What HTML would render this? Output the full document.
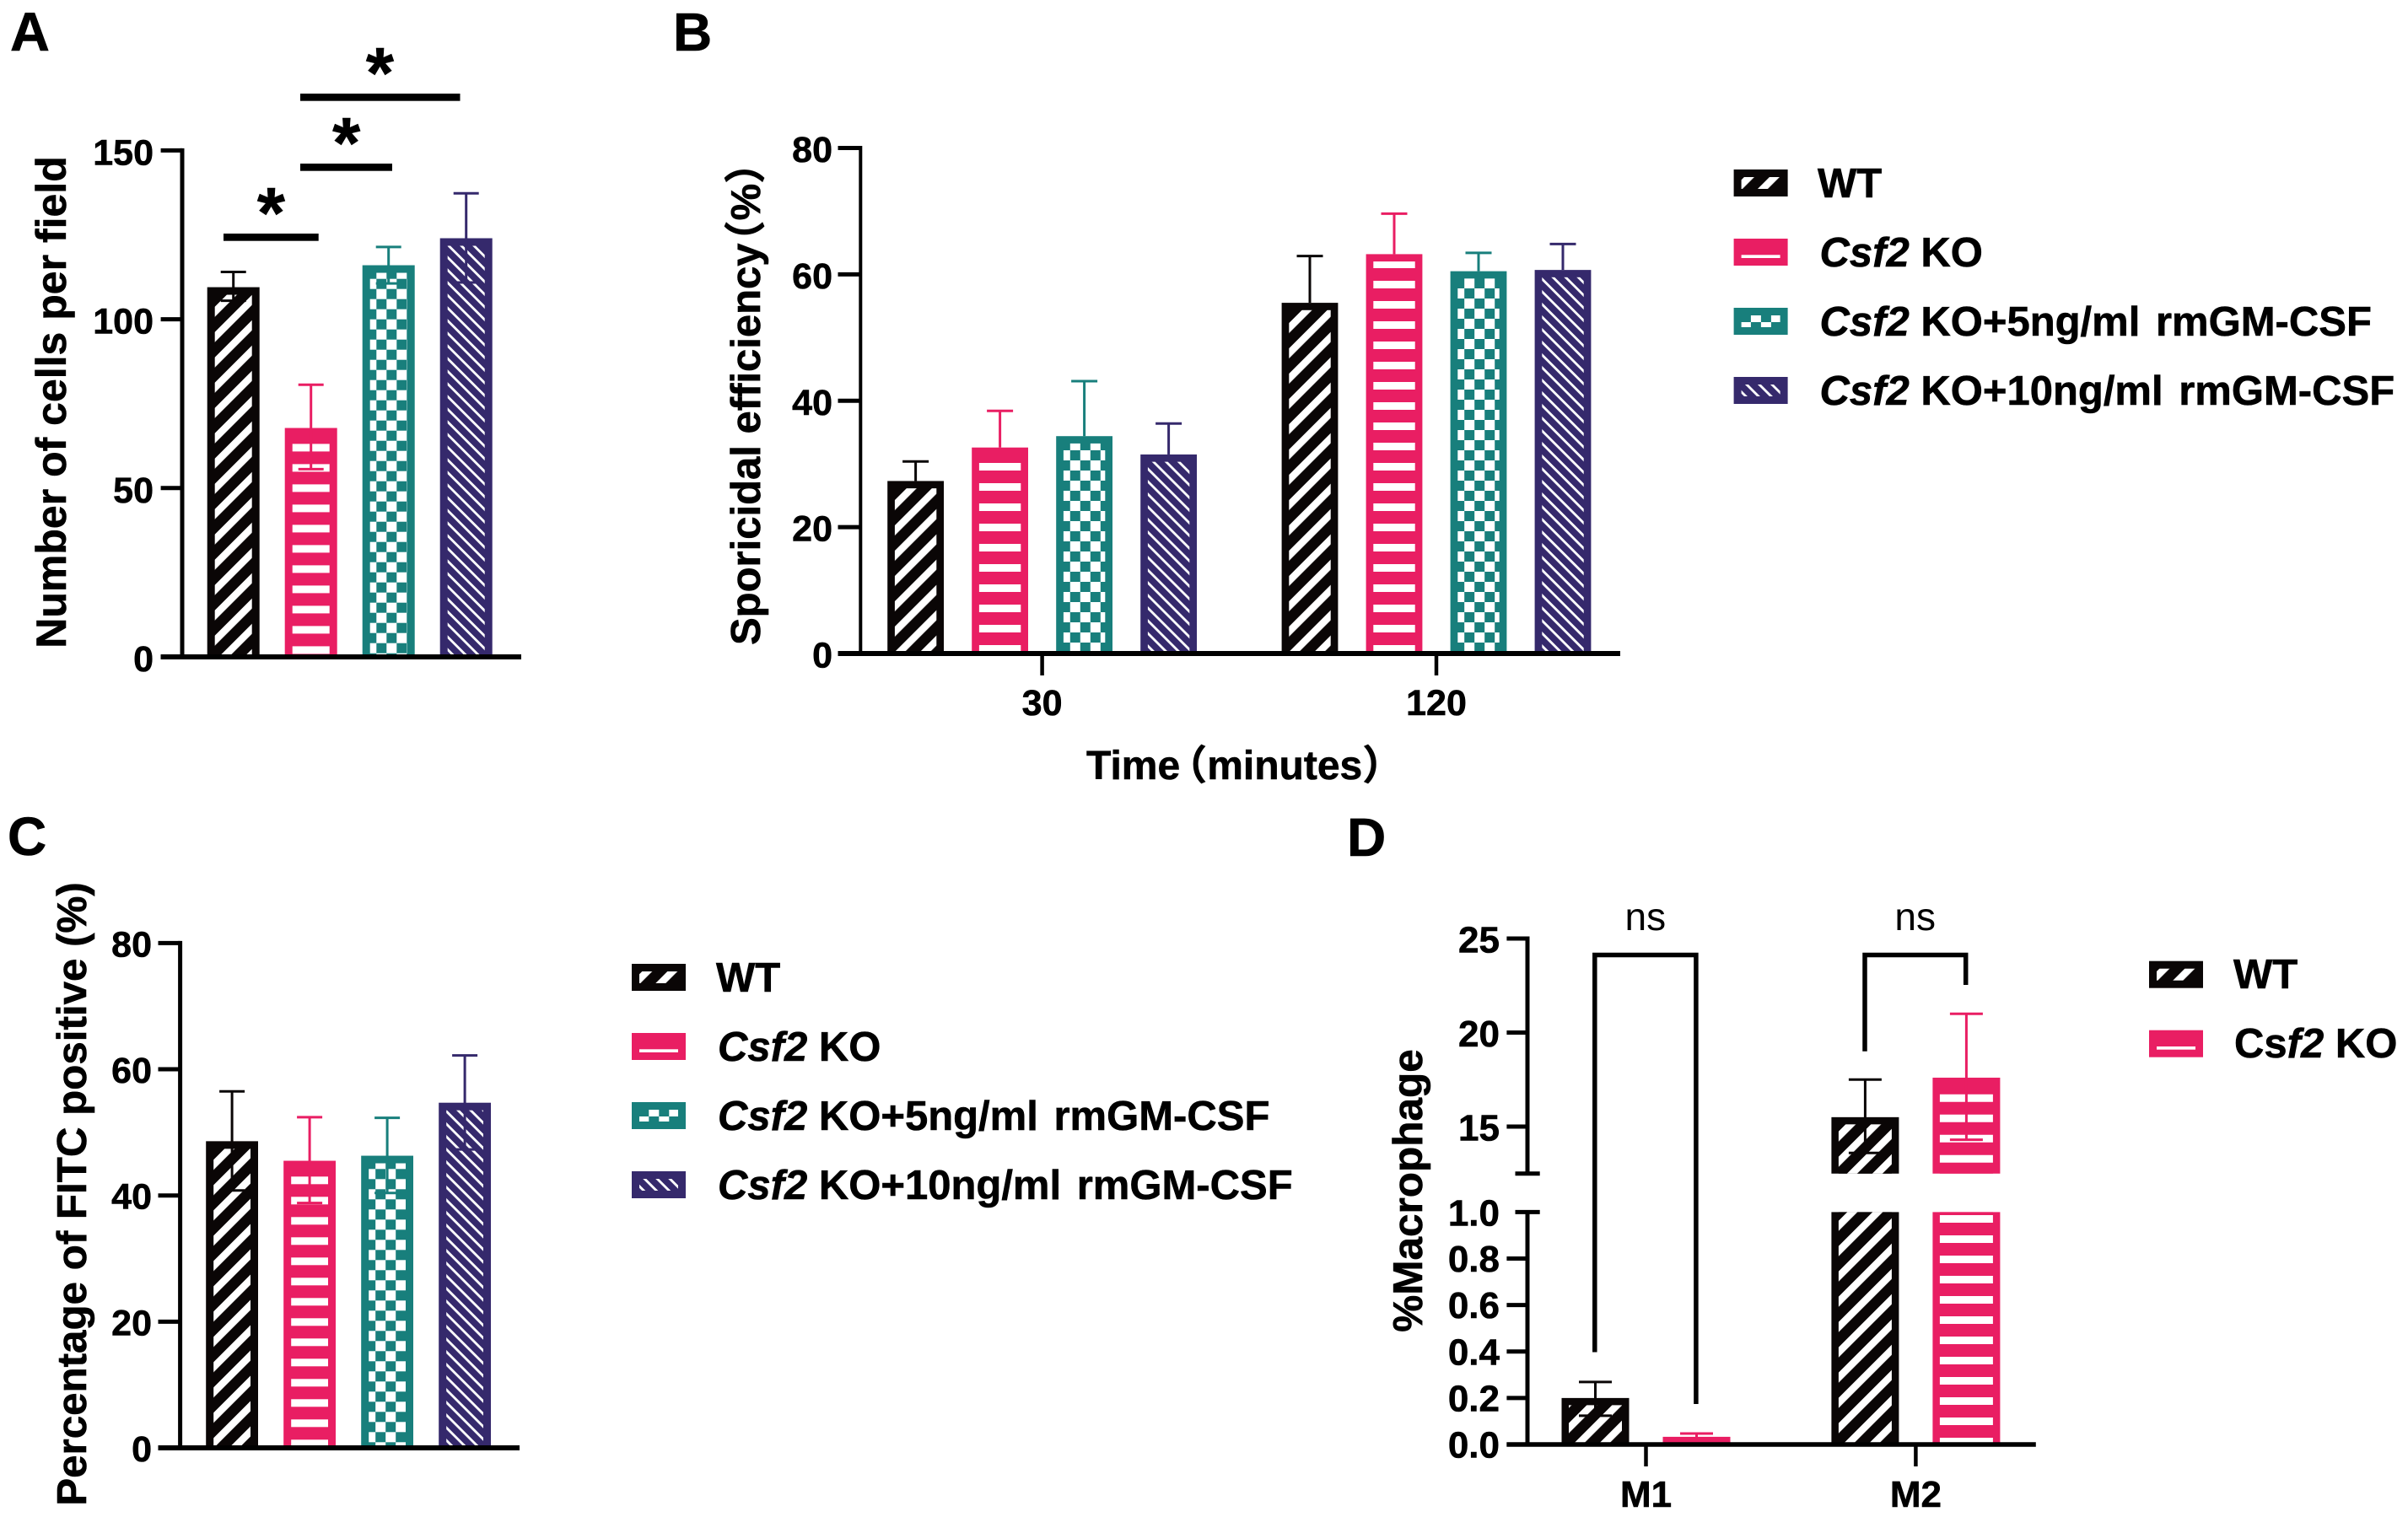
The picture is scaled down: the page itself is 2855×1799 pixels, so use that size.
<!DOCTYPE html>
<html lang="en">
<head>
<meta charset="utf-8">
<title>Csf2 KO macrophage panels</title>
<style>
html,body{margin:0;padding:0;background:#fff;}
svg{display:block;}
text{font-family:"Liberation Sans","Noto Sans CJK SC",sans-serif;font-weight:700;fill:#000;stroke:#000;stroke-width:.6px;}
text.regular{font-weight:400;stroke:none;}
</style>
</head>
<body>
<svg id="fig" xmlns="http://www.w3.org/2000/svg" width="2855" height="1799" viewBox="0 0 2855 1799">
<rect width="2855" height="1799" fill="#fff"/>
<defs id="defs"></defs>

<text x="12" y="60" font-size="65">A</text>
<text x="798" y="60" font-size="64">B</text>
<text x="9" y="1014" font-size="64">C</text>
<text x="1597" y="1015" font-size="64">D</text>

<text transform="translate(78,477) rotate(-90)" text-anchor="middle" font-size="50">Number of cells per field</text>
<text transform="translate(901,765) rotate(-90)" font-size="49">Sporicidal efficiency<tspan dx="-22">（%）</tspan></text>
<text x="1288" y="924" font-size="48">Time<tspan dx="-16">（</tspan>minutes）</text>
<text transform="translate(102,1416) rotate(-90)" text-anchor="middle" font-size="49.3">Percentage of FITC positive (%)</text>
<text transform="translate(1686,1412) rotate(-90)" text-anchor="middle" font-size="49.5">%Macrophage</text>

<g>
  <rect x="265" y="277" width="112.7" height="8.7" fill="#000"/>
  <rect x="356" y="194" width="109" height="8.7" fill="#000"/>
  <rect x="356" y="111" width="189.5" height="8.7" fill="#000"/>
  <text x="321.4" y="282" text-anchor="middle" font-size="85">*</text>
  <text x="410.7" y="199" text-anchor="middle" font-size="85">*</text>
  <text x="450.4" y="116" text-anchor="middle" font-size="85">*</text>
</g>

<g fill="none" stroke="#000" stroke-width="5.5">
  <path d="M1890.8 1603.5V1132.5H2010.9V1665"/>
  <path d="M2211 1246.7V1132.5H2330.7V1168"/>
</g>
<text class="regular" x="1950.8" y="1103" text-anchor="middle" font-size="46">ns</text>
<text class="regular" x="2270.7" y="1103" text-anchor="middle" font-size="46">ns</text>

<g font-size="49">
  <text x="2155" y="234">WT</text>
  <text x="2157.5" y="316"><tspan font-style="italic">Csf2</tspan> KO</text>
  <text x="2157.5" y="398"><tspan font-style="italic">Csf2</tspan> KO+5ng/ml <tspan dx="5">rmGM-CSF</tspan></text>
  <text x="2157.5" y="480"><tspan font-style="italic">Csf2</tspan> KO+10ng/ml <tspan dx="5">rmGM-CSF</tspan></text>
</g>
<g font-size="49">
  <text x="849" y="1176">WT</text>
  <text x="851" y="1258"><tspan font-style="italic">Csf2</tspan> KO</text>
  <text x="851" y="1340"><tspan font-style="italic">Csf2</tspan> KO+5ng/ml <tspan dx="5">rmGM-CSF</tspan></text>
  <text x="851" y="1422"><tspan font-style="italic">Csf2</tspan> KO+10ng/ml <tspan dx="5">rmGM-CSF</tspan></text>
</g>
<g font-size="49">
  <text x="2648" y="1172">WT</text>
  <text x="2649" y="1254">Cs<tspan font-style="italic">f2</tspan> KO</text>
</g>
</svg>

<script>
// Panel A values (series order: WT, KO, KO+5ng, KO+10ng)
const aMeans = [109.5, 67.8, 116, 124];
const aHigh = [114, 80.6, 121.4, 137.3];
const aLow = [105.5, 55.6, 110.6, 110.9];
const aTicks = [0, 50, 100, 150];

// Panel B values
const bTimes = ['30', '120'];
const bMeans = [[27.3, 32.6, 34.4, 31.5], [55.5, 63.2, 60.5, 60.7]];
const bHigh = [[30.4, 38.4, 43.1, 36.4], [62.9, 69.6, 63.4, 64.8]];
const bTicks = [0, 20, 40, 60, 80];

// Panel C values
const cMeans = [48.6, 45.5, 46.3, 54.7];
const cHigh = [56.5, 52.4, 52.3, 62.2];
const cLow = [40.8, 38.8, 40.4, 47.3];
const cTicks = [0, 20, 40, 60, 80];

// Panel D values (series order: WT, KO)
const dGroups = ['M1', 'M2'];
const dMeans = [[0.2, 0.033], [15.5, 17.6]];
const dHigh = [[0.269, 0.047], [17.5, 21]];
const dLow = [[0.124, 0.02], [13.6, 14.3]];
const dLowerTicks = ['0.0', '0.2', '0.4', '0.6', '0.8', '1.0'];
const dUpperTicks = ['15', '20', '25'];

const kinds = ['black', 'pink', 'teal', 'purple'];
const seriesNames = ['wt', 'ko', 'ko-5ng', 'ko-10ng'];
const colors = {black: '#0a0606', pink: '#e91e63', teal: '#187f7c', purple: '#35296c'};

const NS = 'http://www.w3.org/2000/svg';
const fig = document.getElementById('fig');
const defs = document.getElementById('defs');
let patternCount = 0;

function mk(tag, attrs, parent) {
  const el = document.createElementNS(NS, tag);
  for (const k in attrs) el.setAttribute(k, attrs[k]);
  if (parent) parent.appendChild(el);
  return el;
}

function makePattern(kind, ox, oy) {
  const id = 'hatch' + (patternCount++);
  const p = mk('pattern', {id: id, patternUnits: 'userSpaceOnUse'}, defs);
  if (kind === 'black') {
    p.setAttribute('width', 10);
    p.setAttribute('height', 21.21);
    p.setAttribute('patternTransform', 'translate(' + ox + ',' + oy + ') rotate(-45)');
    mk('rect', {width: 10, height: 21.21, fill: colors.black}, p);
    mk('rect', {width: 10, height: 8.5, fill: '#fff'}, p);
  } else if (kind === 'pink') {
    p.setAttribute('width', 10);
    p.setAttribute('height', 24);
    p.setAttribute('patternTransform', 'translate(' + ox + ',' + oy + ')');
    mk('rect', {width: 10, height: 24, fill: colors.pink}, p);
    mk('rect', {width: 10, height: 9, fill: '#fff'}, p);
  } else if (kind === 'teal') {
    p.setAttribute('width', 24);
    p.setAttribute('height', 24);
    p.setAttribute('patternTransform', 'translate(' + ox + ',' + oy + ')');
    mk('rect', {width: 24, height: 24, fill: '#fff'}, p);
    mk('rect', {width: 12, height: 12, fill: colors.teal}, p);
    mk('rect', {x: 12, y: 12, width: 12, height: 12, fill: colors.teal}, p);
  } else {
    p.setAttribute('width', 10);
    p.setAttribute('height', 10.61);
    p.setAttribute('patternTransform', 'translate(' + ox + ',' + oy + ') rotate(45)');
    mk('rect', {width: 10, height: 10.61, fill: colors.purple}, p);
    mk('rect', {width: 10, height: 2.83, fill: '#fff'}, p);
  }
  return 'url(#' + id + ')';
}

// Origin of a bar's hatch, tied to the bar's left edge and its baseline
function barPattern(kind, left, base, border, ph) {
  const inner = left + border;
  if (kind === 'black') return makePattern(kind, inner, base - ph.black - 12);
  if (kind === 'pink') return makePattern(kind, 0, base - ph.pink);
  if (kind === 'teal') return makePattern(kind, left + ph.tealX, base - ph.teal);
  return makePattern(kind, inner, base - ph.purple - 4);
}

function drawSegment(parent, kind, left, width, top, bottom, border, hasTop, fill) {
  const outer = mk('rect', {x: left, y: top, width: width, height: bottom - top, fill: colors[kind]}, parent);
  
  
  const t = top + (hasTop ? border : 0);
  const inner = mk('rect', {x: left + border, y: t, width: width - 2 * border, height: Math.max(0, bottom - t), fill: fill}, parent);
  
  
}

function drawError(parent, kind, cx, yHigh, yLow, cap, lw, hasLowCap) {
  const c = colors[kind];
  const stem = mk('line', {x1: cx, x2: cx, y1: yHigh, y2: yLow, stroke: c, 'stroke-width': lw}, parent);
  
  
  const hi = mk('line', {x1: cx - cap / 2, x2: cx + cap / 2, y1: yHigh, y2: yHigh, stroke: c, 'stroke-width': lw}, parent);
  
  
  if (hasLowCap) {
    const lo = mk('line', {x1: cx - cap / 2, x2: cx + cap / 2, y1: yLow, y2: yLow, stroke: c, 'stroke-width': lw}, parent);
    
    
  }
}

function drawYTick(parent, yPos, xLeft, xRight, label, labelRight, fontSize, dy) {
  const t = mk('line', {x1: xLeft, x2: xRight, y1: yPos, y2: yPos, stroke: '#000', 'stroke-width': 5}, parent);
  
  
  if (label !== null) {
    const s = mk('text', {x: labelRight, y: yPos + dy, 'text-anchor': 'end', 'font-size': fontSize}, parent);
    s.textContent = label;
    
    
  }
}

function axisLine(parent, x1, y1, x2, y2, w, name) {
  const l = mk('line', {x1: x1, y1: y1, x2: x2, y2: y2, stroke: '#000', 'stroke-width': w}, parent);
  
  
}

const phaseA = {black: 13.3, pink: 12.6, tealX: 16.6, teal: 16.3, purple: 6.7};

/* ---------- Panel A ---------- */
const gA = mk('g', {}, fig);


const yA = v => 779 - v * (600.6 / 150);
const xA = i => 245.7 + i * 92;
aMeans.forEach((m, i) => {
  const kind = kinds[i];
  const fill = barPattern(kind, xA(i), yA(0), 9, phaseA);
  const bar = mk('g', {}, gA);
  
  
  drawSegment(bar, kind, xA(i), 62, yA(m), yA(0), 9, true, fill);
  drawError(bar, kind, xA(i) + 31, yA(aHigh[i]), yA(aLow[i]), 30, 3, true);
});
axisLine(gA, 216, yA(150) - 2.5, 216, yA(0), 5, 'y-axis');
aTicks.forEach(v => drawYTick(gA, yA(v), 190.6, 216, String(v), 182, 43, 17));
axisLine(gA, 190.6, yA(0), 618, yA(0), 6, 'x-axis');

/* ---------- Panel B ---------- */
const gB = mk('g', {}, fig);


const yB = v => 775 - v * (599.5 / 80);
const xB = (g, i) => 1052.2 + g * 467.4 + i * 100;
const phaseB = {black: 20, pink: 10, tealX: 16.6, teal: 25, purple: 7};
bMeans.forEach((row, g) => {
  row.forEach((m, i) => {
    const kind = kinds[i];
    const fill = barPattern(kind, xB(g, i), yB(0), 8.7, phaseB);
    const bar = mk('g', {}, gB);
    
    
    drawError(bar, kind, xB(g, i) + 33.4, yB(bHigh[g][i]), yB(m), 31, 3, false);
    drawSegment(bar, kind, xB(g, i), 66.8, yB(m), yB(0), 8.7, true, fill);
  });
  const cx = xB(g, 0) + 183.4;
  axisLine(gB, cx, yB(0), cx, 801, 4.5, 'x-axis-tick');
  const s = mk('text', {x: cx, y: 848, 'text-anchor': 'middle', 'font-size': 43}, gB);
  s.textContent = bTimes[g];
  
  
});
axisLine(gB, 1020.3, yB(80) - 2.5, 1020.3, yB(0), 4, 'y-axis');
bTicks.forEach(v => drawYTick(gB, yB(v), 993.5, 1020, String(v), 987, 43, 16.5));
axisLine(gB, 993.5, yB(0), 1921, yB(0), 6, 'x-axis');

/* ---------- Panel C ---------- */
const gC = mk('g', {}, fig);


const yC = v => 1717 - v * (598.6 / 80);
const xC = i => 244.2 + i * 92;
const phaseC = {black: 29.7, pink: 9.7, tealX: 17, teal: 18.7, purple: 7};
cMeans.forEach((m, i) => {
  const kind = kinds[i];
  const fill = barPattern(kind, xC(i), yC(0), 9, phaseC);
  const bar = mk('g', {}, gC);
  
  
  drawSegment(bar, kind, xC(i), 61.8, yC(m), yC(0), 9, true, fill);
  drawError(bar, kind, xC(i) + 30.9, yC(cHigh[i]), yC(cLow[i]), 30, 3, true);
});
axisLine(gC, 213.6, yC(80) - 2.5, 213.6, yC(0), 5, 'y-axis');
cTicks.forEach(v => drawYTick(gC, yC(v), 187.5, 213.6, String(v), 180, 43, 16));
axisLine(gC, 187.5, yC(0), 616, yC(0), 6, 'x-axis');

/* ---------- Panel D ---------- */
const gD = mk('g', {}, fig);


const breakLow = 1;
const breakHigh = 12.5;
const yD = v => v <= breakLow ? 1713 - v * 275.6 : 1391.75 - (v - breakHigh) * 22.3;
const xD = (g, i) => 1851.5 + g * 319.9 + i * 120;
const phaseDLow = {black: 13.3, pink: 8, tealX: 16.6, teal: 16.3, purple: 6.7};
const phaseDUp = {black: 8, pink: 22, tealX: 16.6, teal: 16.3, purple: 6.7};
dMeans.forEach((row, g) => {
  row.forEach((m, i) => {
    const kind = kinds[i];
    const left = xD(g, i);
    const bar = mk('g', {}, gD);
    
    
    const lowFill = barPattern(kind, left, yD(0), 8.5, phaseDLow);
    if (m <= breakLow) {
      drawSegment(bar, kind, left, 80, yD(m), yD(0), 8.5, true, lowFill);
    } else {
      const upFill = barPattern(kind, left, yD(breakHigh), 8.5, phaseDUp);
      drawSegment(bar, kind, left, 80, yD(breakLow), yD(0), 8.5, false, lowFill);
      drawSegment(bar, kind, left, 80, yD(m), yD(breakHigh), 8.5, true, upFill);
    }
    drawError(bar, kind, left + 40, yD(dHigh[g][i]), yD(dLow[g][i]), 39, 3, true);
  });
  const cx = xD(g, 0) + 100;
  axisLine(gD, cx, yD(0), cx, 1739, 4.5, 'x-axis-tick');
  const s = mk('text', {x: cx, y: 1787, 'text-anchor': 'middle', 'font-size': 44}, gD);
  s.textContent = dGroups[g];
  
  
});
axisLine(gD, 1811, yD(25) - 2.5, 1811, yD(breakHigh), 5, 'y-axis-upper');
axisLine(gD, 1811, yD(breakLow), 1811, yD(0), 5, 'y-axis-lower');
dUpperTicks.forEach(t => drawYTick(gD, yD(Number(t)), 1786.4, 1811, t, 1778, 44, 16.7));
dLowerTicks.forEach(t => {
  const v = Number(t);
  if (v === breakLow) {
    drawYTick(gD, yD(v), 1796.5, 1825.7, t, 1778, 44, 16);
  } else {
    drawYTick(gD, yD(v), 1786.4, 1811, t, 1778, 44, 15.5);
  }
});
drawYTick(gD, yD(breakHigh), 1796.5, 1825.7, null, 0, 0, 0);
axisLine(gD, 1786.4, yD(0), 2413.8, yD(0), 5.5, 'x-axis');

/* ---------- Legend swatches ---------- */
function swatch(kind, x, y) {
  const sw = mk('g', {}, fig);
  
  
  mk('rect', {x: x, y: y, width: 64, height: 32, fill: colors[kind]}, sw);
  let fill;
  if (kind === 'black') fill = makePattern(kind, x + 33.3 - 12, y);
  else if (kind === 'pink') fill = makePattern(kind, 0, y + 19.3);
  else if (kind === 'teal') fill = makePattern(kind, x + 20.3, y + 17);
  else fill = makePattern(kind, x + 14, y + 5.7);
  mk('rect', {x: x + 9, y: y + 9, width: 46, height: 14, fill: fill}, sw);
}
kinds.forEach((k, i) => swatch(k, 2055.6, 201 + i * 82));
kinds.forEach((k, i) => swatch(k, 749, 1143 + i * 82));
kinds.slice(0, 2).forEach((k, i) => swatch(k, 2548, 1139.7 + i * 82));
</script>
</body>
</html>
